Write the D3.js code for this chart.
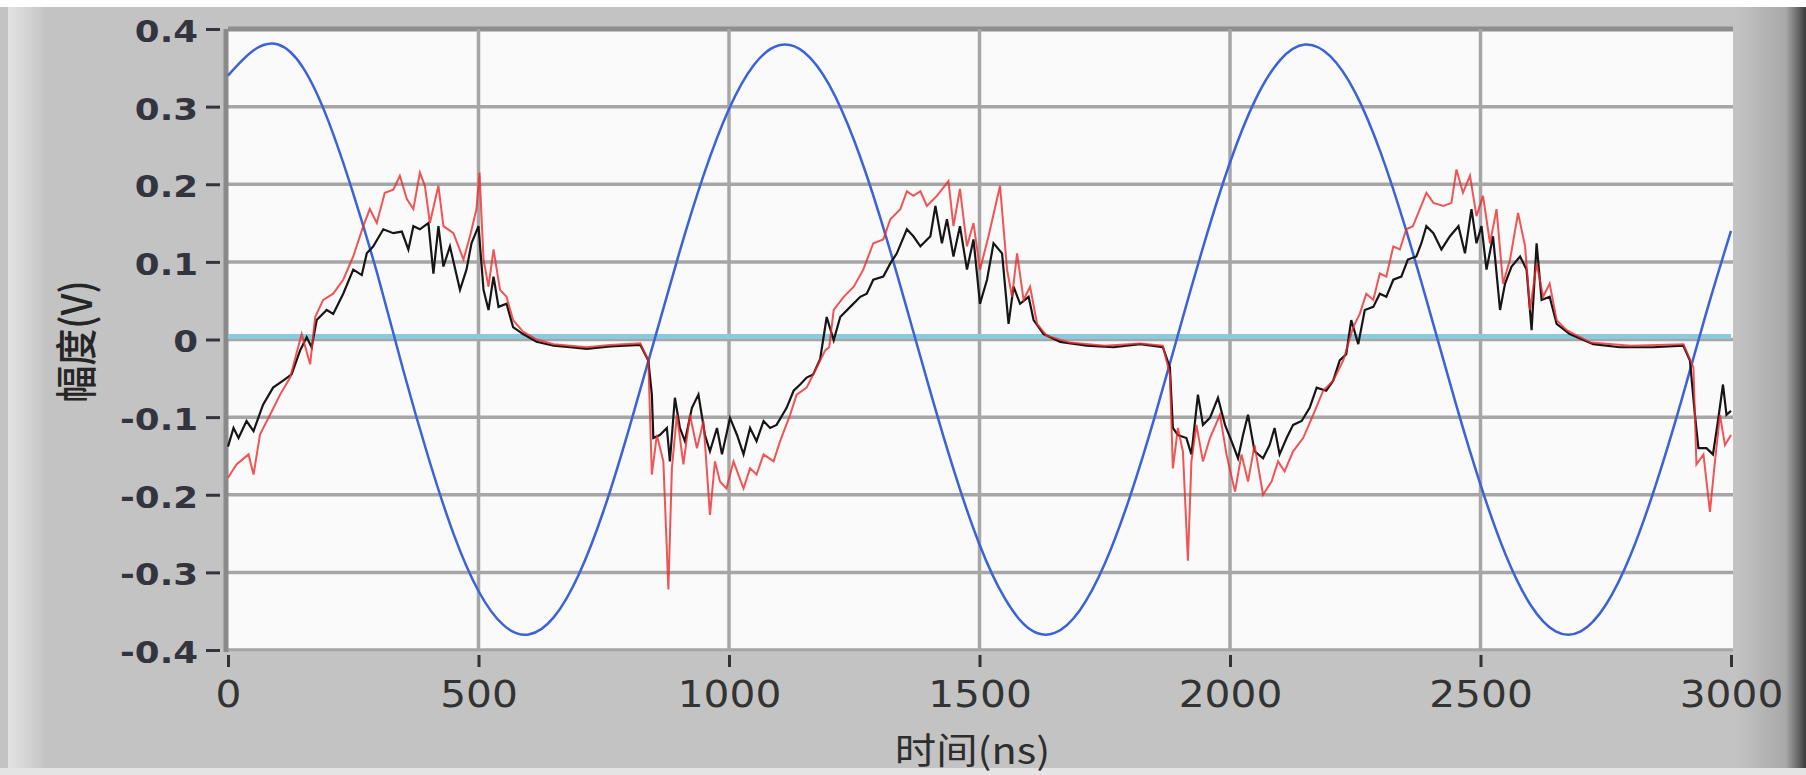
<!DOCTYPE html>
<html>
<head>
<meta charset="utf-8">
<script src="https://cdn.jsdelivr.net/npm/d3@7"></script>
<style>
  body { margin: 0; background: #fff; }
  svg text { font-family: "DejaVu Sans", Verdana, sans-serif; }
</style>
</head>
<body>
<div id="chart"></div>
<script>
// axis setup
const xTicks = [0, 500, 1000, 1500, 2000, 2500, 3000];
const yTicks = [0.4, 0.3, 0.2, 0.1, 0, -0.1, -0.2, -0.3, -0.4];
const yTickLabels = ["0.4", "0.3", "0.2", "0.1", "0", "-0.1", "-0.2", "-0.3", "-0.4"];
const xTitle = "时间(ns)";
const yTitle = "幅度(V)";

// light blue reference level (V)
const refLevel = 0.004;

// blue sine, read every 50 ns
const blueT = [0, 50, 100, 150, 200, 250, 300, 350, 400, 450, 500, 550, 600, 650, 700, 750, 800, 850, 900, 950,
  1000, 1050, 1100, 1150, 1200, 1250, 1300, 1350, 1400, 1450, 1500, 1550, 1600, 1650, 1700, 1750, 1800, 1850, 1900, 1950,
  2000, 2050, 2100, 2150, 2200, 2250, 2300, 2350, 2400, 2450, 2500, 2550, 2600, 2650, 2700, 2750, 2800, 2850, 2900, 2950, 3000];
const blueV = [0.340, 0.372, 0.380, 0.350, 0.282, 0.188, 0.080, -0.040, -0.152, -0.250, -0.324, -0.368, -0.380, -0.358, -0.303, -0.220, -0.116, -0.003, 0.110, 0.213,
  0.297, 0.354, 0.379, 0.370, 0.328, 0.256, 0.161, 0.051, -0.063, -0.171, -0.264, -0.333, -0.373, -0.378, -0.349, -0.289, -0.203, -0.099, 0.015, 0.127,
  0.228, 0.308, 0.360, 0.380, 0.365, 0.318, 0.242, 0.144, 0.033, -0.081, -0.187, -0.277, -0.342, -0.376, -0.376, -0.342, -0.277, -0.187, -0.081, 0.033, 0.140];

// black trace [ns, V]
const blackPts = [[0,-0.138],[11,-0.114],[21,-0.127],[37,-0.105],[51,-0.118],[70,-0.084],[90,-0.062],[110,-0.053],[127,-0.045],[144,-0.014],
  [157,0.003],[167,-0.010],[177,0.025],[197,0.038],[210,0.033],[230,0.059],[250,0.090],[267,0.083],[277,0.111],[290,0.120],
  [310,0.142],[330,0.137],[347,0.139],[360,0.116],[370,0.146],[383,0.142],[400,0.150],[410,0.085],[420,0.146],[430,0.094],
  [443,0.120],[463,0.064],[476,0.090],[486,0.124],[500,0.146],[510,0.064],[520,0.038],[530,0.081],[540,0.042],[556,0.046],
  [569,0.016],[589,0.007],[616,-0.003],[650,-0.008],[683,-0.010],[716,-0.012],[763,-0.009],[823,-0.007],[839,-0.027],[846,-0.071],
  [849,-0.127],[862,-0.123],[876,-0.114],[882,-0.157],[892,-0.075],[902,-0.114],[912,-0.131],[926,-0.088],[939,-0.071],[952,-0.123],
  [962,-0.144],[976,-0.114],[986,-0.148],[1002,-0.101],[1016,-0.123],[1029,-0.148],[1042,-0.114],[1055,-0.131],[1069,-0.105],[1082,-0.114],
  [1095,-0.110],[1115,-0.088],[1129,-0.066],[1142,-0.058],[1155,-0.049],[1168,-0.045],[1182,-0.025],[1195,0.029],[1209,-0.001],[1222,0.029],
  [1242,0.042],[1262,0.055],[1275,0.059],[1288,0.077],[1308,0.081],[1322,0.098],[1335,0.111],[1355,0.142],[1368,0.133],[1382,0.120],
  [1402,0.133],[1412,0.172],[1425,0.124],[1435,0.155],[1448,0.107],[1461,0.146],[1475,0.090],[1488,0.129],[1501,0.046],[1515,0.077],
  [1528,0.124],[1545,0.111],[1558,0.020],[1568,0.068],[1581,0.046],[1598,0.055],[1608,0.025],[1628,0.007],[1661,-0.003],[1714,-0.008],
  [1767,-0.010],[1821,-0.006],[1866,-0.010],[1880,-0.036],[1886,-0.114],[1896,-0.123],[1913,-0.127],[1923,-0.148],[1936,-0.071],[1946,-0.110],
  [1960,-0.101],[1976,-0.075],[1990,-0.110],[2003,-0.131],[2016,-0.153],[2026,-0.123],[2036,-0.097],[2049,-0.144],[2066,-0.153],[2079,-0.136],
  [2089,-0.114],[2099,-0.148],[2113,-0.127],[2126,-0.110],[2143,-0.105],[2159,-0.088],[2173,-0.062],[2192,-0.066],[2206,-0.053],[2219,-0.027],
  [2232,-0.019],[2242,0.025],[2256,-0.006],[2269,0.038],[2286,0.042],[2299,0.059],[2312,0.055],[2326,0.077],[2342,0.081],[2355,0.103],
  [2372,0.107],[2382,0.124],[2392,0.146],[2406,0.137],[2422,0.116],[2439,0.133],[2456,0.146],[2469,0.111],[2482,0.168],[2492,0.124],
  [2502,0.146],[2512,0.090],[2525,0.133],[2539,0.038],[2549,0.072],[2562,0.094],[2579,0.107],[2592,0.090],[2602,0.012],[2612,0.124],
  [2622,0.051],[2638,0.055],[2652,0.020],[2678,0.007],[2725,-0.006],[2778,-0.010],[2845,-0.010],[2905,-0.008],[2918,-0.027],[2928,-0.097],
  [2935,-0.140],[2951,-0.140],[2964,-0.148],[2974,-0.105],[2984,-0.058],[2991,-0.097],[3000,-0.092]];

// red trace [ns, V]
const redPts = [[0,-0.178],[17,-0.161],[41,-0.148],[51,-0.174],[64,-0.122],[84,-0.097],[104,-0.071],[124,-0.049],[147,0.007],[164,-0.032],
  [174,0.029],[190,0.051],[210,0.059],[230,0.077],[250,0.107],[270,0.146],[283,0.168],[297,0.150],[313,0.189],[330,0.193],
  [343,0.211],[357,0.181],[370,0.168],[383,0.215],[393,0.198],[403,0.150],[420,0.198],[430,0.146],[450,0.137],[470,0.103],
  [483,0.133],[496,0.168],[502,0.215],[510,0.103],[520,0.068],[530,0.116],[543,0.064],[556,0.055],[569,0.025],[589,0.010],
  [616,0.000],[650,-0.006],[683,-0.008],[716,-0.010],[763,-0.007],[823,-0.005],[839,-0.027],[846,-0.174],[856,-0.123],[869,-0.157],
  [879,-0.322],[886,-0.166],[896,-0.097],[909,-0.161],[922,-0.097],[936,-0.140],[949,-0.105],[962,-0.226],[972,-0.157],[982,-0.183],
  [995,-0.192],[1009,-0.157],[1029,-0.192],[1042,-0.166],[1055,-0.174],[1069,-0.148],[1089,-0.157],[1102,-0.131],[1122,-0.097],[1135,-0.071],
  [1155,-0.062],[1175,-0.036],[1192,-0.014],[1200,-0.010],[1209,0.038],[1229,0.055],[1249,0.068],[1268,0.090],[1288,0.124],[1308,0.129],
  [1322,0.155],[1342,0.168],[1355,0.191],[1368,0.185],[1382,0.191],[1395,0.172],[1415,0.185],[1438,0.204],[1448,0.146],[1461,0.194],
  [1475,0.120],[1488,0.150],[1501,0.090],[1518,0.133],[1541,0.198],[1555,0.090],[1565,0.055],[1575,0.111],[1588,0.051],[1601,0.068],
  [1615,0.020],[1634,0.005],[1680,-0.004],[1750,-0.008],[1820,-0.005],[1866,-0.008],[1880,-0.045],[1886,-0.166],[1896,-0.114],[1906,-0.144],
  [1916,-0.285],[1923,-0.157],[1933,-0.110],[1946,-0.157],[1960,-0.127],[1980,-0.097],[1993,-0.148],[2010,-0.196],[2023,-0.148],[2036,-0.183],
  [2049,-0.136],[2066,-0.200],[2083,-0.183],[2096,-0.157],[2109,-0.170],[2126,-0.144],[2146,-0.127],[2166,-0.097],[2186,-0.066],[2206,-0.053],
  [2226,-0.027],[2246,0.016],[2259,0.033],[2272,0.059],[2286,0.051],[2299,0.085],[2312,0.081],[2326,0.120],[2339,0.116],[2352,0.142],
  [2365,0.146],[2379,0.168],[2392,0.189],[2406,0.176],[2426,0.172],[2442,0.176],[2452,0.219],[2465,0.189],[2479,0.211],[2492,0.159],
  [2505,0.185],[2519,0.124],[2532,0.168],[2545,0.072],[2559,0.103],[2575,0.163],[2589,0.120],[2599,0.038],[2612,0.098],[2625,0.055],
  [2638,0.072],[2652,0.025],[2672,0.012],[2720,-0.004],[2800,-0.008],[2905,-0.006],[2925,-0.036],[2931,-0.161],[2945,-0.148],[2958,-0.222],
  [2968,-0.157],[2978,-0.097],[2988,-0.136],[3000,-0.123]];

let W = 1806, H = 775;
let margin = {top: 29, right: 75, bottom: 125, left: 228},
  width = W - margin.left - margin.right,
  height = H - margin.top - margin.bottom;

let root = d3.select("#chart").append("svg")
  .attr("width", W)
  .attr("height", H);

// panel background, LabVIEW-like grey frame
let defs = root.append("defs");
let gRight = defs.append("linearGradient").attr("id", "gRight");
gRight.append("stop").attr("offset", "0%").attr("stop-color", "#c2c2c2");
gRight.append("stop").attr("offset", "70%").attr("stop-color", "#a9a9a9");
gRight.append("stop").attr("offset", "88%").attr("stop-color", "#6a6a6a");
gRight.append("stop").attr("offset", "100%").attr("stop-color", "#3a3a3a");
let gLeft = defs.append("linearGradient").attr("id", "gLeft");
gLeft.append("stop").attr("offset", "0%").attr("stop-color", "#e2e2e2");
gLeft.append("stop").attr("offset", "100%").attr("stop-color", "#c6c6c6");

root.append("rect").attr("x", 0).attr("y", 7).attr("width", W).attr("height", 763).attr("fill", "#c3c3c3");
root.append("rect").attr("x", 8).attr("y", 7).attr("width", 36).attr("height", 763).attr("fill", "url(#gLeft)");
root.append("rect").attr("x", 1738).attr("y", 7).attr("width", 68).attr("height", 763).attr("fill", "url(#gRight)");
root.append("rect").attr("x", 0).attr("y", 768).attr("width", W).attr("height", 7).attr("fill", "#e4e4e4");

let svg = root.append("g")
  .attr("transform", "translate(" + margin.left + "," + margin.top + ")");

let x = d3.scaleLinear().domain([0, 3000]).range([0, width]);
let y = d3.scaleLinear().domain([-0.4, 0.4]).range([height, 0]);

// plot area
svg.append("rect")
  .attr("x", -1).attr("y", 0)
  .attr("width", width + 3).attr("height", height + 2)
  .attr("fill", "#fafafa");

// grid
svg.append("g").selectAll("line")
  .data(yTicks)
  .enter().append("line")
  .attr("x1", 0).attr("x2", width + 2)
  .attr("y1", d => y(d)).attr("y2", d => y(d))
  .style("stroke", d => d == 0.4 ? "#8e8e8e" : "#a6a6a6")
  .style("stroke-width", d => d == 0.4 ? 5 : 3.5);
svg.append("g").selectAll("line")
  .data(xTicks.filter(d => d > 0 && d < 3000))
  .enter().append("line")
  .attr("x1", d => x(d)).attr("x2", d => x(d))
  .attr("y1", 0).attr("y2", height)
  .style("stroke", "#a6a6a6")
  .style("stroke-width", 3.5);
svg.append("line")
  .attr("x1", x(0) - 2).attr("x2", x(0) - 2)
  .attr("y1", 0).attr("y2", height + 2)
  .style("stroke", "#8a8a8a")
  .style("stroke-width", 5);

// Add Y axis
let yAxis = svg.append("g")
  .call(d3.axisLeft(y).tickValues(yTicks).tickSize(0).tickFormat((d, i) => yTickLabels[i]));
yAxis.select(".domain").remove();
yAxis.selectAll(".tick line")
  .attr("x1", -22).attr("x2", -8)
  .style("stroke", "#34343e")
  .style("stroke-width", 3);
yAxis.selectAll(".tick text")
  .attr("x", 0)
  .attr("dy", "0.4em")
  .attr("transform", "translate(-30,0) scale(1.15,1)")
  .style("font-size", "31px")
  .style("font-weight", "bold")
  .style("fill", "#34343e")
  .style("text-anchor", "end");

// Add X axis
let xAxis = svg.append("g")
  .attr("transform", "translate(0," + height + ")")
  .call(d3.axisBottom(x).tickValues(xTicks).tickSize(0).tickFormat(d3.format("d")));
xAxis.select(".domain").remove();
xAxis.selectAll(".tick line")
  .attr("y1", 5).attr("y2", 17)
  .style("stroke", "#333")
  .style("stroke-width", 3);
xAxis.selectAll(".tick text")
  .attr("y", 0)
  .attr("dy", 0)
  .attr("transform", "translate(0,57) scale(1.1,1)")
  .style("font-size", "37px")
  .style("fill", "#333")
  .style("text-anchor", "middle");

// axis titles
svg.append("text")
  .attr("transform", "translate(" + (x(1500) - 7) + "," + (height + 114) + ") scale(1.15,1)")
  .attr("text-anchor", "middle")
  .style("font-family", "'Noto Sans CJK SC', 'DejaVu Sans', sans-serif")
  .style("font-size", "36px")
  .style("fill", "#2e2e2e")
  .text(xTitle);
svg.append("text")
  .attr("transform", "translate(" + (77 - margin.left) + "," + (y(0) + 2) + ") scale(1.15,1) rotate(-90)")
  .attr("text-anchor", "middle")
  .attr("dy", "0.35em")
  .style("font-family", "'Noto Sans CJK SC', 'DejaVu Sans', sans-serif")
  .style("font-size", "37px")
  .style("font-weight", "500")
  .style("fill", "#262626")
  .text(yTitle);

// series
let plot = svg.append("g");
plot.append("line")
  .attr("x1", 0).attr("x2", width)
  .attr("y1", y(refLevel)).attr("y2", y(refLevel))
  .style("stroke", "#8bc9df")
  .style("stroke-width", 5);

let line = d3.line()
  .x(d => x(d[0]))
  .y(d => y(d[1]));

plot.append("path")
  .datum(blueT.map((t, i) => [t, blueV[i]]))
  .attr("d", line.curve(d3.curveNatural))
  .attr("fill", "none")
  .style("stroke", "#3b62d6")
  .style("stroke-width", 2.5);

line.curve(d3.curveLinear);
plot.append("path")
  .datum(blackPts)
  .attr("d", line)
  .attr("fill", "none")
  .style("stroke", "#161616")
  .style("stroke-width", 2.2);

plot.append("path")
  .datum(redPts)
  .attr("d", line)
  .attr("fill", "none")
  .style("stroke", "#ee2a2a")
  .style("stroke-opacity", 0.8)
  .style("stroke-width", 2);
</script>
</body>
</html>
